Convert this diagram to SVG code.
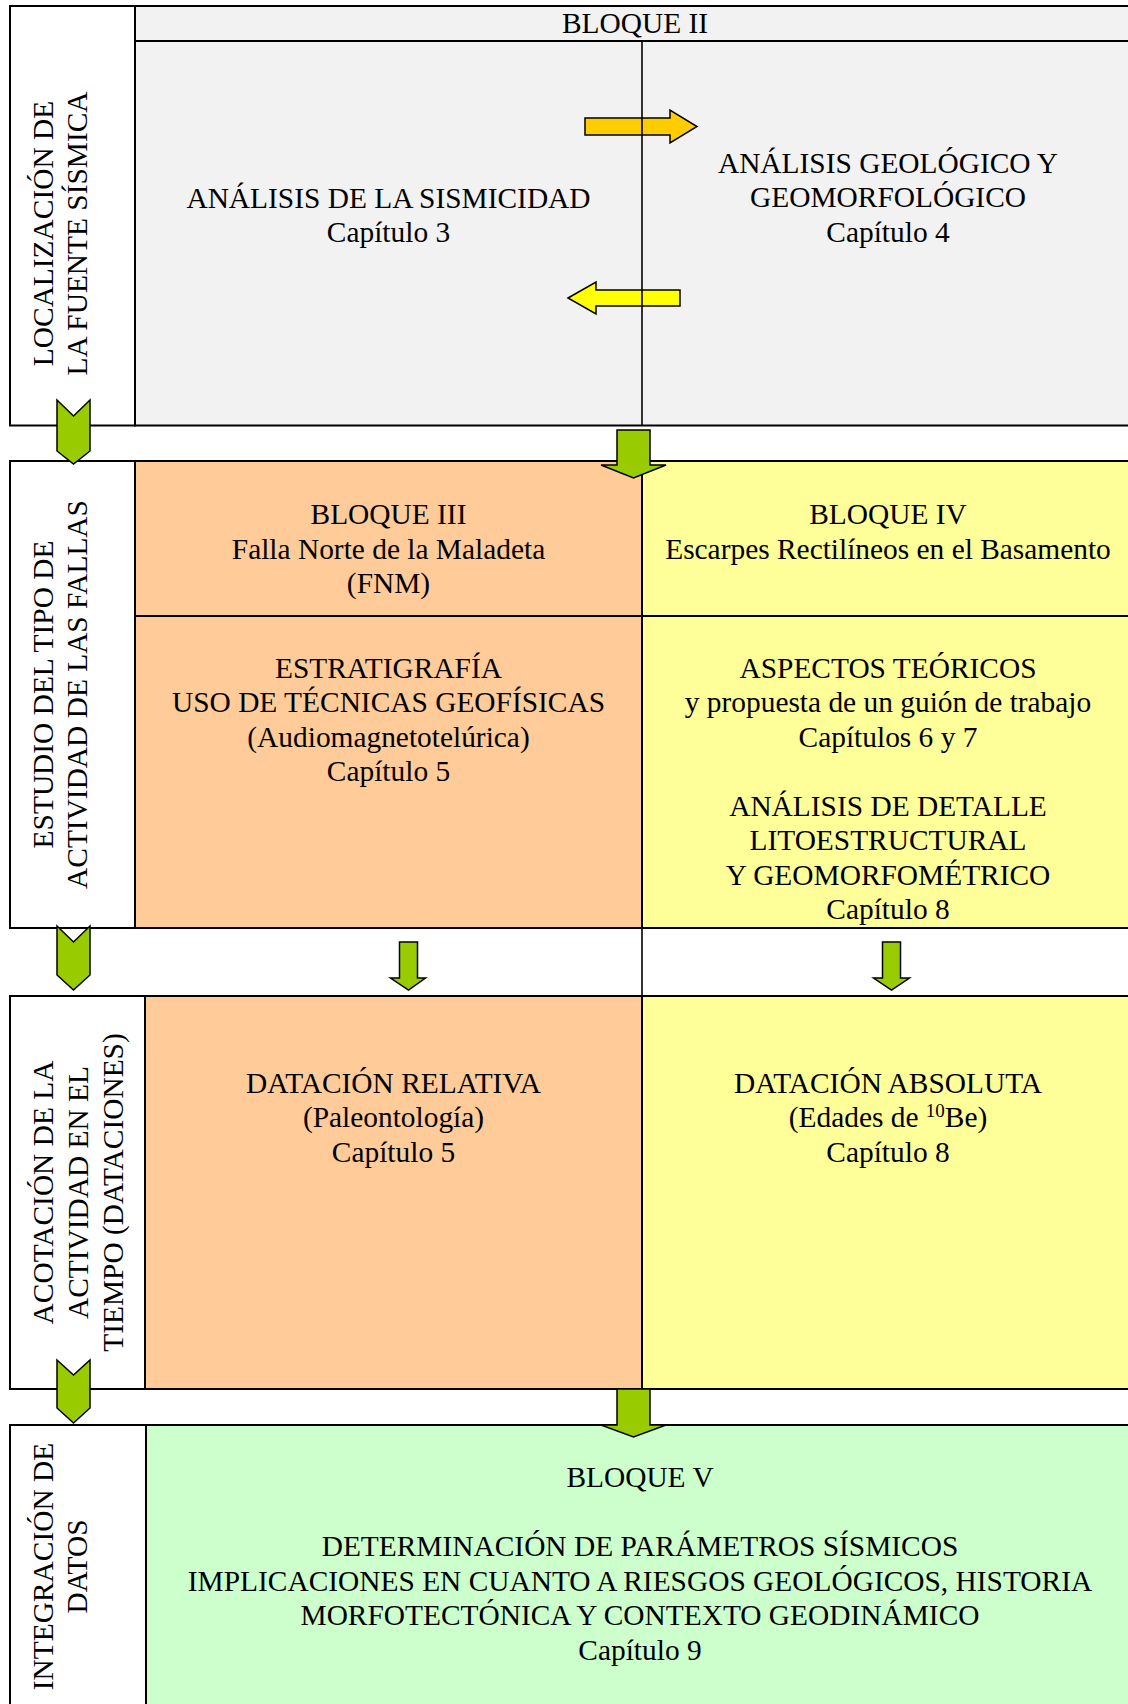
<svg xmlns="http://www.w3.org/2000/svg" width="1128" height="1704" viewBox="0 0 1128 1704">
<style>
.t{font-family:"Liberation Serif","Times New Roman",serif;font-size:29.4px;fill:#000;text-anchor:middle}
.sup{font-size:19px}
.ln{stroke:#000;stroke-width:2;fill:none}
.thin{stroke:#000;stroke-width:1.6;fill:none}
.box{stroke:#000;stroke-width:2}
.grn{fill:#99CC00;stroke:#000;stroke-width:1.5}
.org{fill:#FFCC00;stroke:#000;stroke-width:1.5}
.yel{fill:#FFFF00;stroke:#000;stroke-width:1.5}
</style>
<rect x="0" y="0" width="1128" height="1704" fill="#FFFFFF"/>

<!-- ROW 1 -->
<g id="row1-label">
<rect class="box" x="10" y="6" width="125" height="419.5" fill="#FFFFFF"/>
<text class="t" transform="translate(53,233.5) rotate(-90)"><tspan x="0" y="0">LOCALIZACIÓN DE</tspan><tspan x="0" y="34">LA FUENTE SÍSMICA</tspan></text>
</g>
<g id="bloque2">
<rect class="box" x="135" y="6" width="1000" height="419.5" fill="#F2F2F2"/>
<line class="ln" x1="135" y1="41" x2="1135" y2="41"/>
<text class="t" x="635" y="33">BLOQUE II</text>
</g>
<g id="sismicidad">
<text class="t" x="388.5" y="207.5">ANÁLISIS DE LA SISMICIDAD</text>
<text class="t" x="388.5" y="241.5">Capítulo 3</text>
</g>
<g id="geologico">
<text class="t" x="888" y="172.7">ANÁLISIS GEOLÓGICO Y</text>
<text class="t" x="888" y="207.3">GEOMORFOLÓGICO</text>
<text class="t" x="888" y="241.5">Capítulo 4</text>
</g>

<!-- ROW 2 -->
<g id="row2-label">
<rect class="box" x="10" y="461" width="125" height="467" fill="#FFFFFF"/>
<text class="t" transform="translate(53,694.5) rotate(-90)"><tspan x="0" y="0">ESTUDIO DEL TIPO DE</tspan><tspan x="0" y="34">ACTIVIDAD DE LAS FALLAS</tspan></text>
</g>
<g id="bloque3">
<rect class="box" x="135" y="461" width="507" height="467" fill="#FFCC99"/>
<line class="ln" x1="135" y1="616" x2="642" y2="616"/>
<text class="t" x="388.5" y="524.3">BLOQUE III</text>
<text class="t" x="388.5" y="558.7">Falla Norte de la Maladeta</text>
<text class="t" x="388.5" y="593.1">(FNM)</text>
</g>
<g id="estratigrafia">
<text class="t" x="388.5" y="677.7">ESTRATIGRAFÍA</text>
<text class="t" x="388.5" y="712.2">USO DE TÉCNICAS GEOFÍSICAS</text>
<text class="t" x="388.5" y="746.7">(Audiomagnetotelúrica)</text>
<text class="t" x="388.5" y="781.2">Capítulo 5</text>
</g>
<g id="bloque4">
<rect class="box" x="642" y="461" width="493" height="467" fill="#FFFF99"/>
<line class="ln" x1="642" y1="616" x2="1135" y2="616"/>
<text class="t" x="888" y="524.3">BLOQUE IV</text>
<text class="t" x="888" y="558.7">Escarpes Rectilíneos en el Basamento</text>
</g>
<g id="aspectos">
<text class="t" x="888" y="677.7">ASPECTOS TEÓRICOS</text>
<text class="t" x="888" y="712.2">y propuesta de un guión de trabajo</text>
<text class="t" x="888" y="746.7">Capítulos 6 y 7</text>
<text class="t" x="888" y="815.7">ANÁLISIS DE DETALLE</text>
<text class="t" x="888" y="850.2">LITOESTRUCTURAL</text>
<text class="t" x="888" y="884.7">Y GEOMORFOMÉTRICO</text>
<text class="t" x="888" y="919.2">Capítulo 8</text>
</g>

<!-- gap divider between row 2 and row 3 -->
<line class="thin" x1="642" y1="928" x2="642" y2="996"/>

<!-- ROW 3 -->
<g id="row3-label">
<rect class="box" x="10" y="996" width="135" height="393" fill="#FFFFFF"/>
<text class="t" transform="translate(53,1192.5) rotate(-90)"><tspan x="0" y="0">ACOTACIÓN DE LA</tspan><tspan x="0" y="35">ACTIVIDAD EN EL</tspan><tspan x="0" y="69.5">TIEMPO (DATACIONES)</tspan></text>
</g>
<g id="datacion-relativa">
<rect class="box" x="145" y="996" width="497" height="393" fill="#FFCC99"/>
<text class="t" x="393.5" y="1092.7">DATACIÓN RELATIVA</text>
<text class="t" x="393.5" y="1127.2">(Paleontología)</text>
<text class="t" x="393.5" y="1161.7">Capítulo 5</text>
</g>
<g id="datacion-absoluta">
<rect class="box" x="642" y="996" width="493" height="393" fill="#FFFF99"/>
<text class="t" x="888" y="1092.7">DATACIÓN ABSOLUTA</text>
<text class="t" x="888" y="1127.2">(Edades de <tspan class="sup" dy="-10">10</tspan><tspan dy="10">Be)</tspan></text>
<text class="t" x="888" y="1161.7">Capítulo 8</text>
</g>

<!-- ROW 4 -->
<g id="row4-label">
<rect class="box" x="10" y="1425" width="136" height="300" fill="#FFFFFF"/>
<text class="t" transform="translate(53,1566.5) rotate(-90)"><tspan x="0" y="0">INTEGRACIÓN DE</tspan><tspan x="0" y="34">DATOS</tspan></text>
</g>
<g id="bloque5">
<rect class="box" x="146" y="1425" width="989" height="300" fill="#CCFFCC"/>
<text class="t" x="640" y="1487.3">BLOQUE V</text>
<text class="t" x="640" y="1556.3">DETERMINACIÓN DE PARÁMETROS SÍSMICOS</text>
<text class="t" x="640" y="1590.8">IMPLICACIONES EN CUANTO A RIESGOS GEOLÓGICOS, HISTORIA</text>
<text class="t" x="640" y="1625.3">MORFOTECTÓNICA Y CONTEXTO GEODINÁMICO</text>
<text class="t" x="640" y="1659.8">Capítulo 9</text>
</g>

<!-- CONNECTORS -->
<g id="connectors">
<polygon class="org" points="585,118 670,118 670,110 697,126.5 670,143 670,135 585,135"/>
<polygon class="yel" points="568,298 596,282 596,290 680,290 680,306 596,306 596,314"/>
<polygon class="grn" points="57,400 73.5,416 90,400 90,451 73.5,464 57,451"/>
<polygon class="grn" points="57,926 73.5,942 90,926 90,975 73.5,990 57,975"/>
<polygon class="grn" points="57,1360 73.5,1375 90,1360 90,1408 73.5,1423 57,1408"/>
<polygon class="grn" points="617,430 650,430 650,465 666,465 633.5,478 601,465 617,465"/>
<polygon class="grn" points="617,1389 650,1389 650,1425 666,1425 633.5,1437 601,1425 617,1425"/>
<polygon class="grn" points="399.5,942 417.5,942 417.5,978 425.5,978 408.5,990 390.5,978 399.5,978"/>
<polygon class="grn" points="882.5,942 900.5,942 900.5,978 909.5,978 891.5,990 873.5,978 882.5,978"/>
</g>

<!-- row 1 centre divider drawn over the lateral arrows -->
<g id="row1-divider">
<line class="thin" x1="642" y1="41" x2="642" y2="425.5"/>
</g>
</svg>
